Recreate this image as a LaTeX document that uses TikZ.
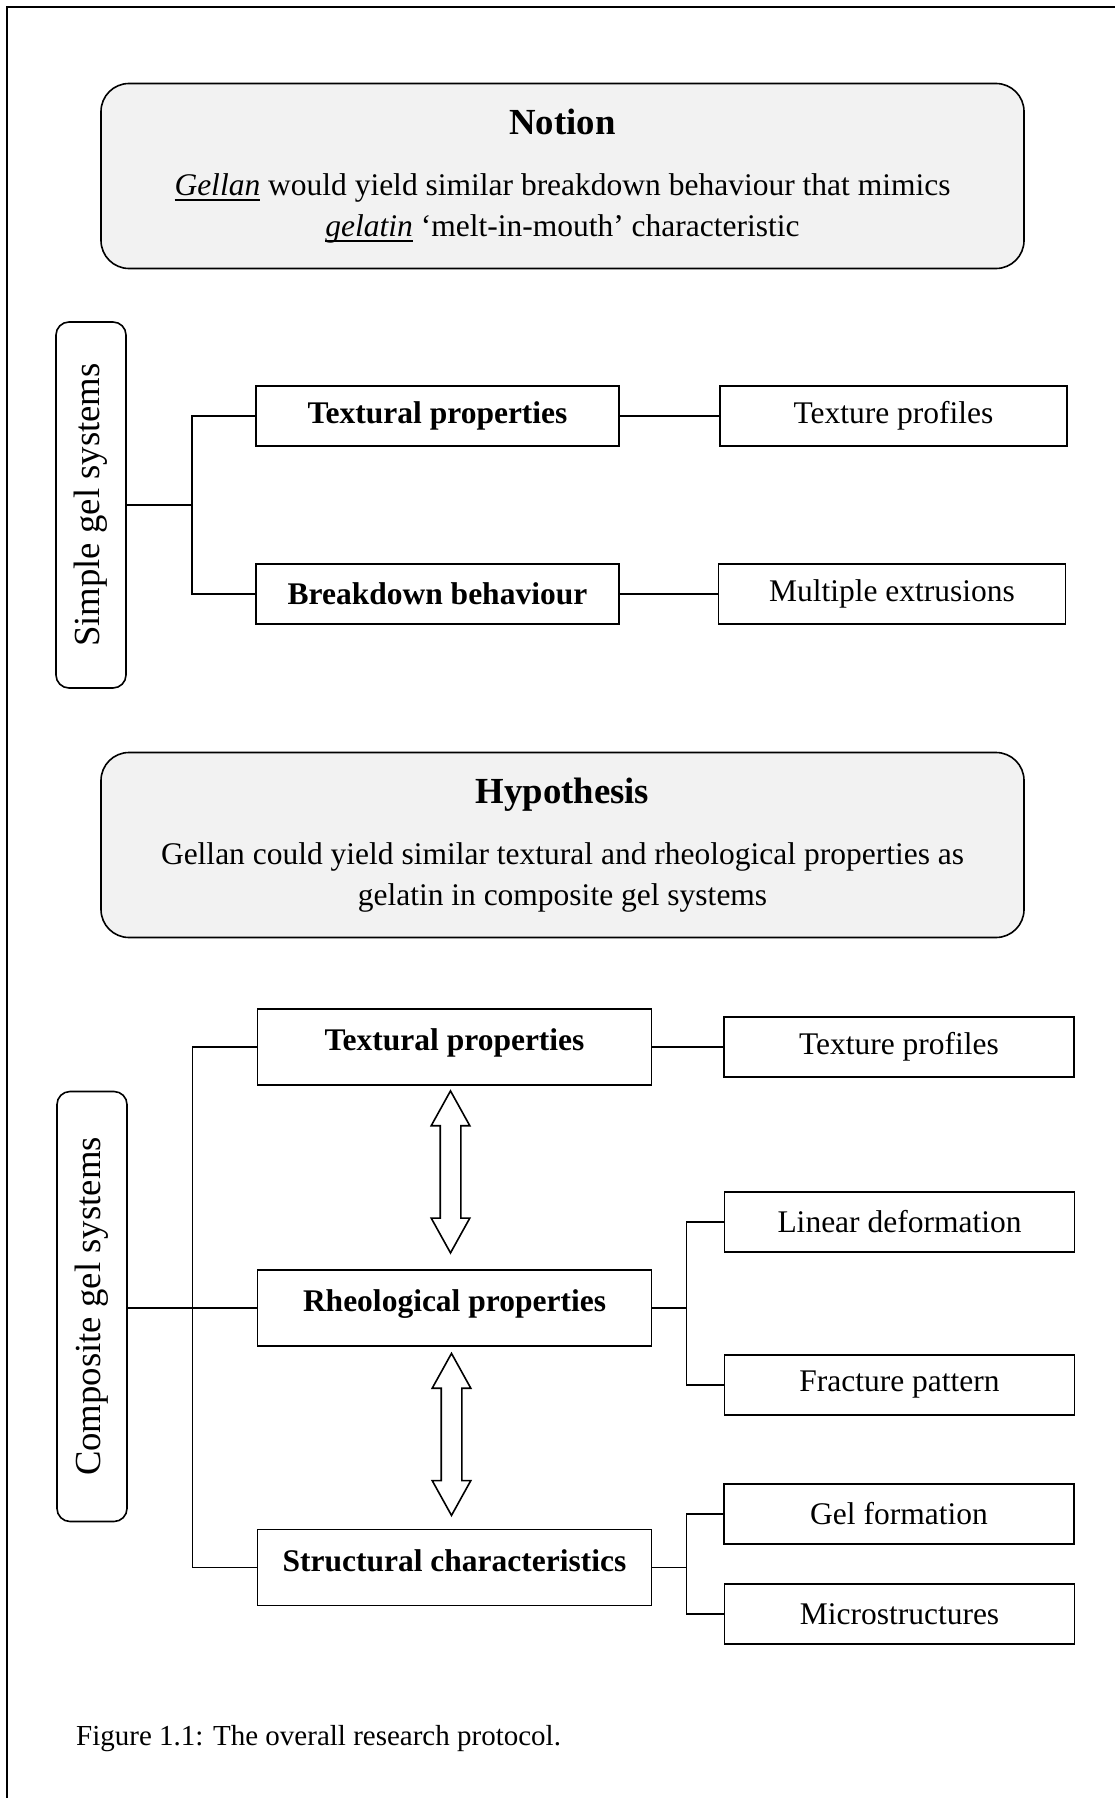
\documentclass[tikz,border=0pt]{standalone}
\usepackage{fontspec}
\setmainfont{Liberation Serif}
\usepackage{graphicx}
\usetikzlibrary{positioning, calc, shapes.arrows}

\newcommand{\bodysize}{\fontsize{31.5pt}{41pt}\selectfont}
\newcommand{\headsize}{\fontsize{36.75pt}{41pt}\selectfont}
\newcommand{\capsize}{\fontsize{29pt}{36pt}\selectfont}
\newsavebox{\ulbox}
\newcommand{\ulword}[1]{\sbox{\ulbox}{#1}\rlap{\rule[-5.5pt]{\wd\ulbox}{1.5pt}}\usebox{\ulbox}}

\definecolor{boxgray}{HTML}{F2F2F2}

\tikzset{
	roundbox/.style={draw, line width=1.6pt, fill=boxgray, rounded corners=28pt, minimum width=923pt, minimum height=185pt, align=center, font=\bodysize},
	sidebox/.style={draw, line width=1.6pt, rounded corners=13pt, minimum width=70pt, inner sep=0pt, font=\headsize},
	mainbox/.style={draw, line width=1.8pt, minimum width=363pt, minimum height=60pt, inner sep=0pt, font=\bodysize\bfseries},
	tallbox/.style={mainbox, minimum width=394pt, minimum height=76pt, text depth=14.8pt},
	subbox/.style={draw, line width=1.8pt, minimum width=347pt, minimum height=60pt, inner sep=0pt, font=\bodysize},
	conn/.style={line width=1.6pt},
	dblarrow/.style={draw, line width=1.6pt, double arrow, rotate=90, minimum height=162pt, minimum width=37pt, inner xsep=0pt, inner ysep=9.5pt, double arrow head extend=9pt, double arrow tip angle=58, double arrow head indent=0pt}
}

\begin{document}
\begin{tikzpicture}[x=1pt, y=1pt]
		\useasboundingbox (0,0) rectangle (1115,-1798);
		\draw[line width=2pt] (7,-1798) -- (7,-7) -- (1115,-7);

		\node[roundbox] (notion) at (562.5,-176) {{\headsize\bfseries Notion}\\[20pt]
			\ulword{\textit{Gellan}} would yield similar breakdown behaviour that mimics\\
			\ulword{\textit{gelatin}} ‘melt-in-mouth’ characteristic};
		\node[roundbox, below of=notion, node distance=669pt] (hypo) {{\headsize\bfseries Hypothesis}\\[20pt]
			Gellan could yield similar textural and rheological properties as\\
			gelatin in composite gel systems};

		\node[sidebox, minimum height=366pt] (simple) at (91,-505) {\rotatebox{90}{Simple gel systems}};
		\node[mainbox] (tex1) at (437.5,-416) {Textural properties};
		\node[mainbox, below of=tex1, node distance=178pt] (brk) {Breakdown behaviour};
		\node[subbox, right of=tex1, node distance=456pt] (prof1) {Texture profiles};
		\node[subbox, right of=brk, node distance=454.5pt] (extr) {Multiple extrusions};

		\node[sidebox, minimum height=430pt] (comp) at (92,-1306.5) {\rotatebox{90}{Composite gel systems}};
		\node[tallbox] (tex2) at (454.5,-1047) {Textural properties};
		\node[tallbox, below of=tex2, node distance=261pt] (rheo) {Rheological properties};
		\node[tallbox, below of=rheo, node distance=259.5pt] (struc) {Structural characteristics};
		\node[subbox, minimum width=350pt, right of=tex2, node distance=444.5pt] (prof2) {Texture profiles};
		\node[subbox, minimum width=350pt, right of=rheo, node distance=445pt, yshift=86.3pt] (lindef) {Linear deformation};
		\node[subbox, minimum width=350pt, right of=rheo, node distance=445pt, yshift=-77pt] (fract) {Fracture pattern};
		\node[subbox, minimum width=350pt, right of=struc, node distance=444.5pt, yshift=53.5pt] (gelf) {Gel formation};
		\node[subbox, minimum width=350pt, right of=struc, node distance=445pt, yshift=-46.7pt] (micro) {Microstructures};

		\node[dblarrow] (arr1) at ($(tex2.south)+(-4,-86)$) {};
		\node[dblarrow] (arr2) at ($(rheo.south)+(-3,-87.5)$) {};

		\node[anchor=base west, font=\capsize, inner sep=0pt] (caption) at (76,-1745.5) {Figure 1.1: The overall research protocol.};

		\coordinate[right=65pt of simple.east] (sj);
		\draw[conn] (simple.east) -- (sj);
		\draw[conn] (tex1.west) -| (sj) |- (brk.west);
		\draw[conn] (tex1) -- (prof1);
		\draw[conn] (brk) -- (extr);

		\coordinate[left=64pt of rheo.west] (cj);
		\draw[conn] (comp.east |- rheo.west) -- (rheo.west);
		\draw[conn] (tex2.west) -| (cj) |- (struc.west);
		\draw[conn] (tex2) -- (prof2);

		\coordinate[right=34pt of rheo.east] (rj);
		\draw[conn] (rheo.east) -- (rj);
		\draw[conn] (lindef.west) -| (rj) |- (fract.west);

		\coordinate[right=34pt of struc.east] (tj);
		\draw[conn] (struc.east) -- (tj);
		\draw[conn] (gelf.west) -| (tj) |- (micro.west);
	\end{tikzpicture}
\end{document}
